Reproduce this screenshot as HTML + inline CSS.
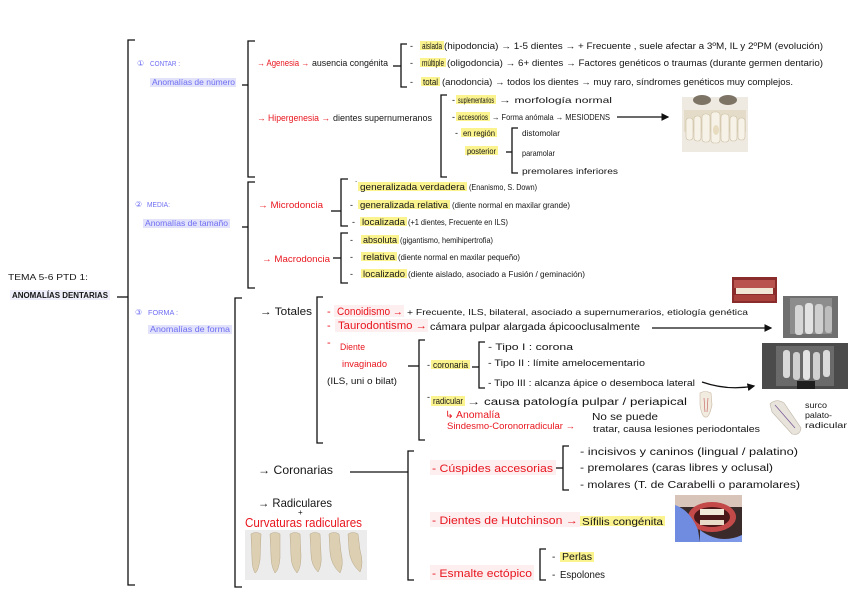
<!DOCTYPE html>
<html><head><meta charset="utf-8">
<style>
html,body{margin:0;padding:0;background:#fff;}
svg{display:block;}
text{font-family:"Liberation Sans","DejaVu Sans",sans-serif;fill:#151515;}
.r{fill:#e8161e;}
.b{fill:#6e6ef2;}
.br{fill:none;stroke:#111;stroke-width:1.3;}
.hl{fill:#fbf38e;}
.lv{fill:#e2e2fb;}
.pk{fill:#fdeef0;}
</style></head>
<body>
<svg width="848" height="599" viewBox="0 0 848 599" xmlns="http://www.w3.org/2000/svg">
<defs>
<marker id="ah" markerWidth="6" markerHeight="6" refX="5" refY="3" orient="auto"><path d="M0,0 L6,3 L0,6 z" fill="#111"/></marker>
</defs>

<!-- Title -->
<text x="8" y="280" font-size="8.5" textLength="80" lengthAdjust="spacingAndGlyphs">TEMA 5-6 PTD 1:</text>
<rect x="10" y="290" width="100" height="10" fill="#eeeefb"/>
<text x="12" y="298" font-size="8" font-weight="bold" textLength="96" lengthAdjust="spacingAndGlyphs">ANOMALÍAS DENTARIAS</text>
<path class="br" d="M117 297 H128"/>
<path class="br" d="M135 40 H128 V585 H135"/>

<!-- Section 1 -->
<text class="b" x="137" y="66" font-size="8">①</text>
<text class="b" x="150" y="66" font-size="7" textLength="30" lengthAdjust="spacingAndGlyphs">CONTAR :</text>
<rect class="lv" x="150" y="78" width="86" height="9"/>
<text class="b" x="152" y="85" font-size="8.5" textLength="83" lengthAdjust="spacingAndGlyphs">Anomalías de número</text>
<path class="br" d="M242 85 H248"/>
<path class="br" d="M255 41 H248 V177 H255"/>

<text class="r" x="257" y="66" font-size="9" textLength="52" lengthAdjust="spacingAndGlyphs">→ Agenesia →</text>
<text x="312" y="66" font-size="9" textLength="76" lengthAdjust="spacingAndGlyphs">ausencia congénita</text>
<path class="br" d="M393 66 H401"/>
<path class="br" d="M407 44 H401 V87 H407"/>

<text x="410" y="49" font-size="9">-</text>
<rect class="hl" x="420" y="41" width="24" height="9"/>
<text x="422" y="49" font-size="9" textLength="20" lengthAdjust="spacingAndGlyphs">aislada</text>
<text x="444" y="49" font-size="9" textLength="379" lengthAdjust="spacingAndGlyphs">(hipodoncia) → 1-5 dientes → + Frecuente , suele afectar a 3ºM, IL y 2ºPM (evolución)</text>

<text x="410" y="66" font-size="9">-</text>
<rect class="hl" x="420" y="58" width="26" height="9"/>
<text x="422" y="66" font-size="9" textLength="22" lengthAdjust="spacingAndGlyphs">múltiple</text>
<text x="447" y="66" font-size="9" textLength="376" lengthAdjust="spacingAndGlyphs">(oligodoncia) → 6+ dientes → Factores genéticos o traumas (durante germen dentario)</text>

<text x="410" y="85" font-size="9">-</text>
<rect class="hl" x="421" y="77" width="19" height="9"/>
<text x="423" y="85" font-size="9.5" textLength="15" lengthAdjust="spacingAndGlyphs">total</text>
<text x="442" y="85" font-size="9" textLength="351" lengthAdjust="spacingAndGlyphs">(anodoncia) → todos los dientes → muy raro, síndromes genéticos muy complejos.</text>

<text class="r" x="257" y="121" font-size="9" textLength="73" lengthAdjust="spacingAndGlyphs">→ Hipergenesia →</text>
<text x="333" y="121" font-size="9" textLength="99" lengthAdjust="spacingAndGlyphs">dientes supernumeranos</text>
<path class="br" d="M447 95 H441 V177 H447"/>

<text x="452" y="103" font-size="9">-</text>
<rect class="hl" x="456" y="95" width="40" height="9"/>
<text x="458" y="103" font-size="8.5" textLength="36" lengthAdjust="spacingAndGlyphs">suplementarios</text>
<text x="499" y="103" font-size="8.5" textLength="113" lengthAdjust="spacingAndGlyphs">→ morfología normal</text>

<text x="452" y="120" font-size="9">-</text>
<rect class="hl" x="456" y="112" width="34" height="9"/>
<text x="458" y="120" font-size="8.5" textLength="30" lengthAdjust="spacingAndGlyphs">accesorios</text>
<text x="492" y="120" font-size="8.5" textLength="118" lengthAdjust="spacingAndGlyphs">→ Forma anómala → MESIODENS</text>
<path d="M617 117 H668" stroke="#111" stroke-width="1.3" marker-end="url(#ah)"/>

<text x="455" y="136" font-size="9">-</text>
<rect class="hl" x="461" y="128" width="36" height="9"/>
<text x="463" y="136" font-size="8.5" textLength="32" lengthAdjust="spacingAndGlyphs">en región</text>
<rect class="hl" x="465" y="146" width="33" height="9"/>
<text x="467" y="154" font-size="8.5" textLength="29" lengthAdjust="spacingAndGlyphs">posterior</text>
<path class="br" d="M506 152 H512"/>
<path class="br" d="M518 128 H512 V173 H518"/>
<text x="522" y="136" font-size="8.5" textLength="38" lengthAdjust="spacingAndGlyphs">distomolar</text>
<text x="522" y="156" font-size="8.5" textLength="33" lengthAdjust="spacingAndGlyphs">paramolar</text>
<text x="522" y="174" font-size="8.5" textLength="96" lengthAdjust="spacingAndGlyphs">premolares inferiores</text>

<!-- skull image -->
<g>
<rect x="682" y="97" width="66" height="55" fill="#eeeae2"/>
<ellipse cx="702" cy="100" rx="9" ry="5" fill="#7d7466"/>
<ellipse cx="728" cy="100" rx="9" ry="5" fill="#7d7466"/>
<rect x="684" y="110" width="62" height="22" fill="#e4dcc8"/>
<g fill="#f6f2e8" stroke="#cdbfa2" stroke-width="0.6">
<rect x="686" y="118" width="7" height="22" rx="3"/>
<rect x="694" y="116" width="7" height="25" rx="3"/>
<rect x="702" y="114" width="8" height="28" rx="3"/>
<rect x="711" y="112" width="9" height="31" rx="3"/>
<rect x="721" y="114" width="8" height="28" rx="3"/>
<rect x="730" y="116" width="7" height="25" rx="3"/>
<rect x="738" y="118" width="7" height="22" rx="3"/>
</g>
<ellipse cx="716" cy="130" rx="3" ry="5" fill="#e8dcc0"/>
</g>

<!-- Section 2 -->
<text class="b" x="135" y="207" font-size="8">②</text>
<text class="b" x="147" y="207" font-size="7" textLength="23" lengthAdjust="spacingAndGlyphs">MEDIA:</text>
<rect class="lv" x="143" y="219" width="87" height="9"/>
<text class="b" x="145" y="226" font-size="8.5" textLength="83" lengthAdjust="spacingAndGlyphs">Anomalías de tamaño</text>
<path class="br" d="M242 227 H248"/>
<path class="br" d="M255 182 H248 V288 H255"/>

<text class="r" x="258" y="208" font-size="9" textLength="65" lengthAdjust="spacingAndGlyphs">→ Microdoncia</text>
<path class="br" d="M331 211 H341"/>
<path class="br" d="M348 179 H341 V226 H348"/>

<text x="355" y="188" font-size="9">˙</text>
<rect class="hl" x="358" y="182" width="109" height="9"/>
<text x="360" y="190" font-size="9" textLength="105" lengthAdjust="spacingAndGlyphs">generalizada verdadera</text>
<text x="469" y="190" font-size="8.5" textLength="68" lengthAdjust="spacingAndGlyphs">(Enanismo, S. Down)</text>

<text x="350" y="208" font-size="9">-</text>
<rect class="hl" x="358" y="200" width="92" height="9"/>
<text x="360" y="208" font-size="9" textLength="88" lengthAdjust="spacingAndGlyphs">generalizada relativa</text>
<text x="452" y="208" font-size="8.5" textLength="118" lengthAdjust="spacingAndGlyphs">(diente normal en maxilar grande)</text>

<text x="352" y="225" font-size="9">-</text>
<rect class="hl" x="360" y="217" width="47" height="9"/>
<text x="362" y="225" font-size="9" textLength="43" lengthAdjust="spacingAndGlyphs">localizada</text>
<text x="408" y="225" font-size="8.5" textLength="100" lengthAdjust="spacingAndGlyphs">(+1 dientes, Frecuente en ILS)</text>

<text class="r" x="262" y="262" font-size="9.5" textLength="68" lengthAdjust="spacingAndGlyphs">→ Macrodoncia</text>
<path class="br" d="M333 258 H341"/>
<path class="br" d="M348 233 H341 V283 H348"/>

<text x="350" y="243" font-size="9">-</text>
<rect class="hl" x="361" y="235" width="38" height="9"/>
<text x="363" y="243" font-size="9" textLength="34" lengthAdjust="spacingAndGlyphs">absoluta</text>
<text x="400" y="243" font-size="8.5" textLength="93" lengthAdjust="spacingAndGlyphs">(gigantismo, hemihipertrofia)</text>

<text x="350" y="260" font-size="9">-</text>
<rect class="hl" x="361" y="252" width="36" height="9"/>
<text x="363" y="260" font-size="9" textLength="32" lengthAdjust="spacingAndGlyphs">relativa</text>
<text x="398" y="260" font-size="8.5" textLength="122" lengthAdjust="spacingAndGlyphs">(diente normal en maxilar pequeño)</text>

<text x="350" y="277" font-size="9">-</text>
<rect class="hl" x="361" y="269" width="46" height="9"/>
<text x="363" y="277" font-size="9" textLength="42" lengthAdjust="spacingAndGlyphs">localizado</text>
<text x="408" y="277" font-size="8.5" textLength="177" lengthAdjust="spacingAndGlyphs">(diente aislado, asociado a Fusión / geminación)</text>

<!-- Section 3 -->
<text class="b" x="135" y="315" font-size="8">③</text>
<text class="b" x="148" y="315" font-size="7" textLength="30" lengthAdjust="spacingAndGlyphs">FORMA :</text>
<rect class="lv" x="148" y="325" width="84" height="9"/>
<text class="b" x="150" y="332" font-size="8.5" textLength="80" lengthAdjust="spacingAndGlyphs">Anomalías de forma</text>
<path class="br" d="M242 298 H235 V587 H242"/>

<text x="260" y="315" font-size="11" textLength="52" lengthAdjust="spacingAndGlyphs">→ Totales</text>
<path class="br" d="M323 297 H317 V443 H323"/>

<rect class="pk" x="334" y="305" width="70" height="12"/>
<text class="r" x="327" y="315" font-size="11">-</text>
<text class="r" x="337" y="315" font-size="11" textLength="66" lengthAdjust="spacingAndGlyphs">Conoidismo →</text>
<text x="407" y="315" font-size="8.5" textLength="341" lengthAdjust="spacingAndGlyphs">+ Frecuente, ILS, bilateral, asociado a supernumerarios, etiología genética</text>

<rect class="pk" x="335" y="319" width="93" height="13"/>
<text class="r" x="327" y="329" font-size="11">-</text>
<text class="r" x="338" y="329" font-size="11" textLength="89" lengthAdjust="spacingAndGlyphs">Taurodontismo →</text>
<text x="430" y="330" font-size="10" textLength="210" lengthAdjust="spacingAndGlyphs">cámara pulpar alargada ápicooclusalmente</text>
<path d="M652 328 H771" stroke="#111" stroke-width="1.3" marker-end="url(#ah)"/>

<text class="r" x="327" y="346" font-size="11">-</text>
<text class="r" x="340" y="350" font-size="9" textLength="25" lengthAdjust="spacingAndGlyphs">Diente</text>
<text class="r" x="342" y="367" font-size="9.5" textLength="45" lengthAdjust="spacingAndGlyphs">invaginado</text>
<text x="327" y="384" font-size="9" textLength="70" lengthAdjust="spacingAndGlyphs">(ILS, uni o bilat)</text>
<path class="br" d="M408 366 H419"/>
<path class="br" d="M425 340 H419 V440 H425"/>

<text x="427" y="368" font-size="9">-</text>
<rect class="hl" x="431" y="360" width="39" height="9"/>
<text x="433" y="368" font-size="9" textLength="35" lengthAdjust="spacingAndGlyphs">coronaria</text>
<path class="br" d="M472 367 H479"/>
<path class="br" d="M485 342 H479 V388 H485"/>
<text x="488" y="350" font-size="9" textLength="85" lengthAdjust="spacingAndGlyphs">- Tipo I : corona</text>
<text x="488" y="366" font-size="9" textLength="157" lengthAdjust="spacingAndGlyphs">- Tipo II : límite amelocementario</text>
<text x="488" y="386" font-size="9" textLength="207" lengthAdjust="spacingAndGlyphs">- Tipo III : alcanza ápice o desemboca lateral</text>
<path d="M702 382 Q728 391 754 386" fill="none" stroke="#111" stroke-width="1.3" marker-end="url(#ah)"/>

<text x="427" y="400" font-size="9">-</text>
<rect class="hl" x="431" y="396" width="34" height="10"/>
<text x="433" y="404" font-size="9.5" textLength="30" lengthAdjust="spacingAndGlyphs">radicular</text>
<text x="467" y="405" font-size="10" textLength="220" lengthAdjust="spacingAndGlyphs">→ causa patología pulpar / periapical</text>
<text class="r" x="445" y="418" font-size="10" textLength="55" lengthAdjust="spacingAndGlyphs">↳ Anomalía</text>
<text class="r" x="447" y="429" font-size="9" textLength="128" lengthAdjust="spacingAndGlyphs">Sindesmo-Coronorradicular →</text>
<text x="592" y="420" font-size="10" textLength="66" lengthAdjust="spacingAndGlyphs">No se puede</text>
<text x="593" y="432" font-size="9.5" textLength="167" lengthAdjust="spacingAndGlyphs">tratar, causa lesiones periodontales</text>

<!-- images right -->
<g>
<rect x="732" y="277" width="45" height="26" fill="#8a2c2c"/>
<rect x="734" y="280" width="41" height="8" fill="#b8534f"/>
<rect x="736" y="288" width="37" height="6" fill="#efe6d6"/>
<rect x="734" y="295" width="41" height="6" fill="#a8403c"/>
</g>
<g>
<rect x="783" y="296" width="55" height="42" fill="#6f6f6f"/>
<rect x="790" y="298" width="42" height="36" fill="#8d8d8d"/>
<rect x="795" y="305" width="8" height="30" rx="3" fill="#d6d6d6"/>
<rect x="805" y="303" width="8" height="31" rx="3" fill="#e2e2e2"/>
<rect x="815" y="304" width="8" height="30" rx="3" fill="#cfcfcf"/>
<rect x="825" y="306" width="7" height="27" rx="3" fill="#bdbdbd"/>
</g>
<g>
<rect x="762" y="343" width="86" height="46" fill="#4b4b4b"/>
<rect x="776" y="346" width="58" height="40" fill="#6a6a6a"/>
<rect x="783" y="350" width="7" height="28" rx="3" fill="#d9d9d9"/>
<rect x="793" y="352" width="7" height="28" rx="3" fill="#cfcfcf"/>
<rect x="803" y="350" width="7" height="30" rx="3" fill="#e3e3e3"/>
<rect x="813" y="352" width="7" height="28" rx="3" fill="#d0d0d0"/>
<rect x="823" y="350" width="7" height="27" rx="3" fill="#dadada"/>
<rect x="797" y="381" width="18" height="8" fill="#1e1e1e"/>
</g>
<g>
<path d="M700 393 Q705 390 711 393 L712 405 Q709 418 706 417 Q702 418 700 405 Z" fill="#f1ebe0" stroke="#c9b7a2" stroke-width="0.6"/>
<path d="M704 398 L705 412 M708 398 L707 412" stroke="#c45a5a" stroke-width="0.6"/>
</g>
<g>
<path d="M770 404 Q776 398 784 403 L801 428 Q800 436 792 434 L772 412 Z" fill="#e8e4dc" stroke="#bdb4a6" stroke-width="0.6"/>
<path d="M775 405 L795 428" stroke="#7a5a9a" stroke-width="0.8"/>
</g>
<text x="805" y="408" font-size="8" textLength="22" lengthAdjust="spacingAndGlyphs">surco</text>
<text x="805" y="418" font-size="8" textLength="27" lengthAdjust="spacingAndGlyphs">palato-</text>
<text x="805" y="428" font-size="8" textLength="42" lengthAdjust="spacingAndGlyphs">radicular</text>

<!-- Coronarias -->
<text x="258" y="474" font-size="12" textLength="75" lengthAdjust="spacingAndGlyphs">→ Coronarias</text>
<path class="br" d="M350 472 H408"/>
<path class="br" d="M414 451 H408 V580 H414"/>

<rect class="pk" x="430" y="460" width="126" height="15"/>
<text class="r" x="432" y="472" font-size="11" textLength="121" lengthAdjust="spacingAndGlyphs">- Cúspides accesorias</text>
<path class="br" d="M556 468 H563"/>
<path class="br" d="M569 446 H563 V490 H569"/>
<text x="580" y="455" font-size="10" textLength="218" lengthAdjust="spacingAndGlyphs">- incisivos y caninos (lingual / palatino)</text>
<text x="580" y="471" font-size="10" textLength="193" lengthAdjust="spacingAndGlyphs">- premolares (caras libres y oclusal)</text>
<text x="580" y="488" font-size="10" textLength="220" lengthAdjust="spacingAndGlyphs">- molares (T. de Carabelli o paramolares)</text>

<rect class="pk" x="430" y="512" width="150" height="15"/>
<text class="r" x="432" y="524" font-size="11" textLength="146" lengthAdjust="spacingAndGlyphs">- Dientes de Hutchinson →</text>
<rect class="hl" x="580" y="516" width="85" height="10"/>
<text x="582" y="525" font-size="10" textLength="81" lengthAdjust="spacingAndGlyphs">Sífilis congénita</text>
<g>
<rect x="675" y="495" width="67" height="47" fill="#3a2a2a"/>
<rect x="675" y="495" width="67" height="12" fill="#d8c4b8"/>
<ellipse cx="712" cy="517" rx="24" ry="15" fill="#c44a4a"/>
<ellipse cx="712" cy="517" rx="18" ry="10" fill="#4a1818"/>
<rect x="700" y="509" width="24" height="6" fill="#f0e8d8"/>
<rect x="700" y="520" width="24" height="5" fill="#e8dcc8"/>
<path d="M675 505 Q690 510 698 530 L700 542 L675 542 Z" fill="#6f8ce0"/>
<path d="M700 530 Q720 545 742 535 L742 542 L700 542 Z" fill="#7d98e6"/>
</g>

<rect class="pk" x="430" y="565" width="104" height="15"/>
<text class="r" x="432" y="577" font-size="11" textLength="100" lengthAdjust="spacingAndGlyphs">- Esmalte ectópico</text>
<path class="br" d="M546 549 H540 V580 H546"/>
<text x="552" y="560" font-size="10">-</text>
<rect class="hl" x="560" y="552" width="34" height="10"/>
<text x="562" y="560" font-size="10" textLength="30" lengthAdjust="spacingAndGlyphs">Perlas</text>
<text x="552" y="578" font-size="10">-</text>
<text x="560" y="578" font-size="10" textLength="45" lengthAdjust="spacingAndGlyphs">Espolones</text>

<!-- Radiculares -->
<text x="258" y="507" font-size="12" textLength="74" lengthAdjust="spacingAndGlyphs">→ Radiculares</text>
<text x="298" y="515" font-size="8">+</text>
<text class="r" x="245" y="527" font-size="13" textLength="117" lengthAdjust="spacingAndGlyphs">Curvaturas radiculares</text>
<g>
<rect x="245" y="530" width="122" height="50" fill="#ececec"/>
<g fill="#dccfb2" stroke="#b8a88a" stroke-width="0.5">
<path d="M251 534 Q256 531 261 534 L260 560 Q258 572 255 573 Q252 568 252 558 Z"/>
<path d="M270 534 Q275 531 280 534 L280 558 Q279 570 275 573 Q271 566 271 556 Z"/>
<path d="M290 534 Q295 531 300 534 L301 556 Q301 568 297 573 Q291 566 291 556 Z"/>
<path d="M310 534 Q315 531 320 534 L321 554 Q322 566 318 572 Q311 565 311 554 Z"/>
<path d="M329 534 Q334 531 339 534 L341 552 Q344 565 340 573 Q331 565 330 552 Z"/>
<path d="M348 534 Q353 531 358 534 L360 550 Q364 564 360 572 Q350 563 349 550 Z"/>
</g>
</g>
</svg>
</body></html>
